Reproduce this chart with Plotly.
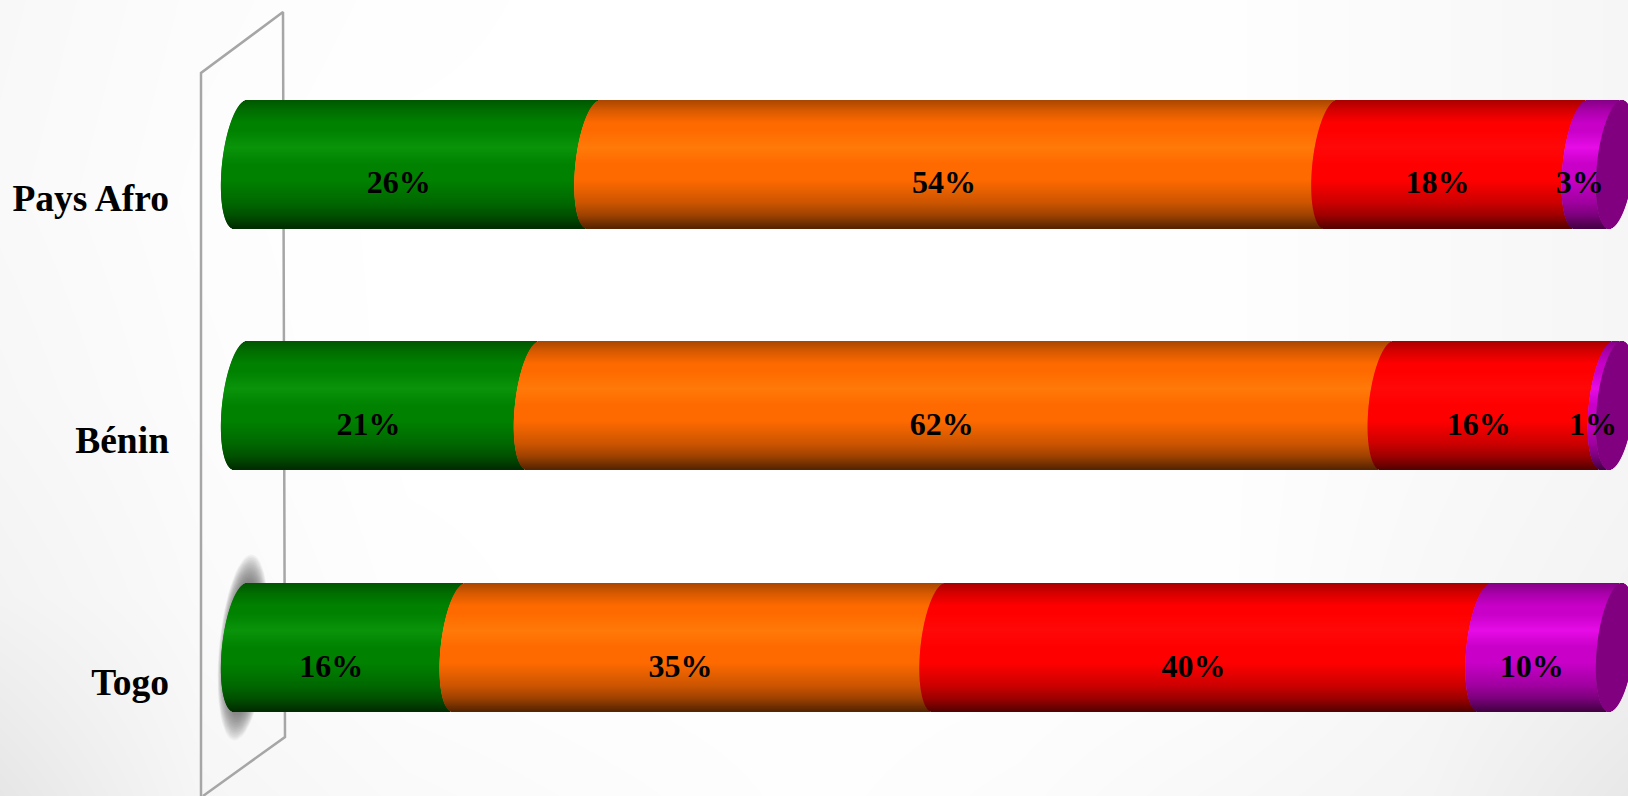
import math
import plotly.graph_objects as go

# ---- data ----
categories = ["Togo", "Bénin", "Pays Afro"]
vert = [15.9, 21.3, 25.7]
orange = [34.9, 62.1, 53.6]
rouge = [39.7, 16.0, 18.2]
violet = [9.5, 0.6, 2.5]
labels_vert = ["16%", "21%", "26%"]
labels_orange = ["35%", "62%", "54%"]
labels_rouge = ["40%", "16%", "18%"]
labels_violet = ["10%", "1%", "3%"]

# ---- style ----
W, H = 1628, 796
PX_PER_PCT = 13.75
X0_PX = 222
ROW_PX = 241.75
ROW0_PX = 647.5
BAR_PX = 128
N = 128
AXIS_LEFT_PX = 170
bodies = {"v": (0, 130, 0), "o": (255, 106, 0), "r": (255, 0, 0), "p": (200, 0, 200)}
highlights = {"v": (10, 148, 10), "o": (255, 122, 8), "r": (255, 8, 8), "p": (230, 12, 230)}
cap_color = "#800080"
shade = [(0, .66), (.08, .84), (.18, 1.0), (.62, 1.0), (.8, .80), (.9, .62), (1, .34)]
bg_z = [
    [248, 252, 254, 255, 255, 255, 254, 250, 246],
    [249, 253, 255, 255, 255, 255, 254, 250, 246],
    [247, 252, 255, 255, 255, 255, 254, 250, 246],
    [243, 250, 254, 255, 255, 255, 254, 248, 243],
    [230, 246, 250, 252, 254, 252, 248, 244, 232],
]
wall_x = [203, 285, 283, 201, 201]
wall_y = [796, 737, 12, 73, 796]


def shade_at(t):
    for (a, fa), (b, fb) in zip(shade, shade[1:]):
        if t <= b:
            return fa + (fb - fa) * (t - a) / (b - a)
    return shade[-1][1]


def col(key, t):
    f = shade_at(t)
    m = max(0.0, 1 - abs(t - .37) / .13)
    b, h = bodies[key], highlights[key]
    return "rgb(%d,%d,%d)" % tuple(round((x + (y - x) * m) * f) for x, y in zip(b, h))


def cx_px(t):
    return 25 - 13 * t


def h_px(t):
    return 18.5 * math.sqrt(max(0, 1 - (2 * t - 1) ** 2))


def off(t):
    return (cx_px(t) - h_px(t)) / PX_PER_PCT


ts = [(i + .5) / N for i in range(N)]
strip = (BAR_PX / N) / ROW_PX


def strip_y(row, t):
    return row + (.5 - t) * BAR_PX / ROW_PX


fig = go.Figure()

# background and wall on the page-pixel axes
fig.add_trace(go.Heatmap(z=bg_z, x=[i * W / 8 for i in range(9)], y=[i * H / 4 for i in range(5)],
                         colorscale=[[0, "#000"], [1, "#fff"]], zmin=0, zmax=255, showscale=False,
                         zsmooth="best", hoverinfo="skip", xaxis="x", yaxis="y"))
fig.add_trace(go.Scatter(x=wall_x, y=wall_y, mode="lines", line=dict(color="#a6a6a6", width=2.5),
                         hoverinfo="skip", xaxis="x", yaxis="y"))
for k in range(24):
    s = 1 - k * .018
    xs, ys = [], []
    for a in range(0, 361, 6):
        r = math.radians(a)
        dy = 93 * s * math.sin(r)
        xs.append(243 - dy * .09 + 24 * s * math.cos(r))
        ys.append(647.5 + dy)
    fig.add_trace(go.Scatter(x=xs, y=ys, mode="lines", fill="toself", line=dict(width=0),
                             fillcolor="rgba(70,70,70,0.055)", hoverinfo="skip", xaxis="x", yaxis="y"))

# the bars, built from stacked values, in thin strips for the cylinder shading
series = [("v", vert, labels_vert), ("o", orange, labels_orange), ("r", rouge, labels_rouge), ("p", violet, labels_violet)]
rows = range(len(categories))
cum = [0.0 for _ in rows]
tx, ty, tt = [], [], []
for key, vals, labs in series:
    xv, yv, bv, cv = [], [], [], []
    for r in rows:
        for t in ts:
            xv.append(vals[r])
            yv.append(strip_y(r, t))
            bv.append(cum[r] + off(t))
            cv.append(col(key, t))
        tx.append(cum[r] + vals[r] / 2)
        ty.append(r - 21 / ROW_PX)
        tt.append(labs[r])
        cum[r] += vals[r]
    fig.add_trace(go.Bar(x=xv, y=yv, base=bv, width=strip * 1.02, orientation="h",
                         marker=dict(color=cv, line=dict(width=0)), hoverinfo="skip",
                         xaxis="x2", yaxis="y2"))

# cylinder end cap
xv, yv, bv = [], [], []
for r in rows:
    for t in ts:
        xv.append(2 * h_px(t) / PX_PER_PCT)
        yv.append(strip_y(r, t))
        bv.append(cum[r] + off(t))
fig.add_trace(go.Bar(x=xv, y=yv, base=bv, width=strip * 1.02, orientation="h",
                     marker=dict(color=cap_color, line=dict(width=0)), hoverinfo="skip",
                     xaxis="x2", yaxis="y2"))

fig.add_trace(go.Scatter(x=tx, y=ty, text=tt, mode="text", textposition="middle center",
                         textfont=dict(family="Liberation Serif", size=32, color="#000", weight=700),
                         hoverinfo="skip", xaxis="x2", yaxis="y2"))

fig.update_layout(
    width=W, height=H, margin=dict(l=0, r=0, t=0, b=0), showlegend=False, barmode="overlay",
    paper_bgcolor="#fff", plot_bgcolor="rgba(0,0,0,0)",
    xaxis=dict(domain=[0, 1], range=[0, W], visible=False, fixedrange=True),
    yaxis=dict(domain=[0, 1], range=[H, 0], visible=False, fixedrange=True),
    xaxis2=dict(domain=[AXIS_LEFT_PX / W, 1], anchor="y2", visible=False, fixedrange=True,
                range=[(AXIS_LEFT_PX - X0_PX) / PX_PER_PCT, (W - X0_PX) / PX_PER_PCT]),
    yaxis2=dict(domain=[0, 1], anchor="x2", fixedrange=True, showgrid=False, zeroline=False, showline=False,
                range=[-(H - ROW0_PX) / ROW_PX, ROW0_PX / ROW_PX],
                tickmode="array", tickvals=[r - 34 / ROW_PX for r in rows], ticktext=categories,
                ticks="", ticklen=0, automargin=False,
                tickfont=dict(family="Liberation Serif", size=37.5, color="#000", weight=700)),
)

fig.write_html("out.html", config={"displayModeBar": False},
               post_script="document.body.style.margin='0';document.body.style.overflow='hidden';")
